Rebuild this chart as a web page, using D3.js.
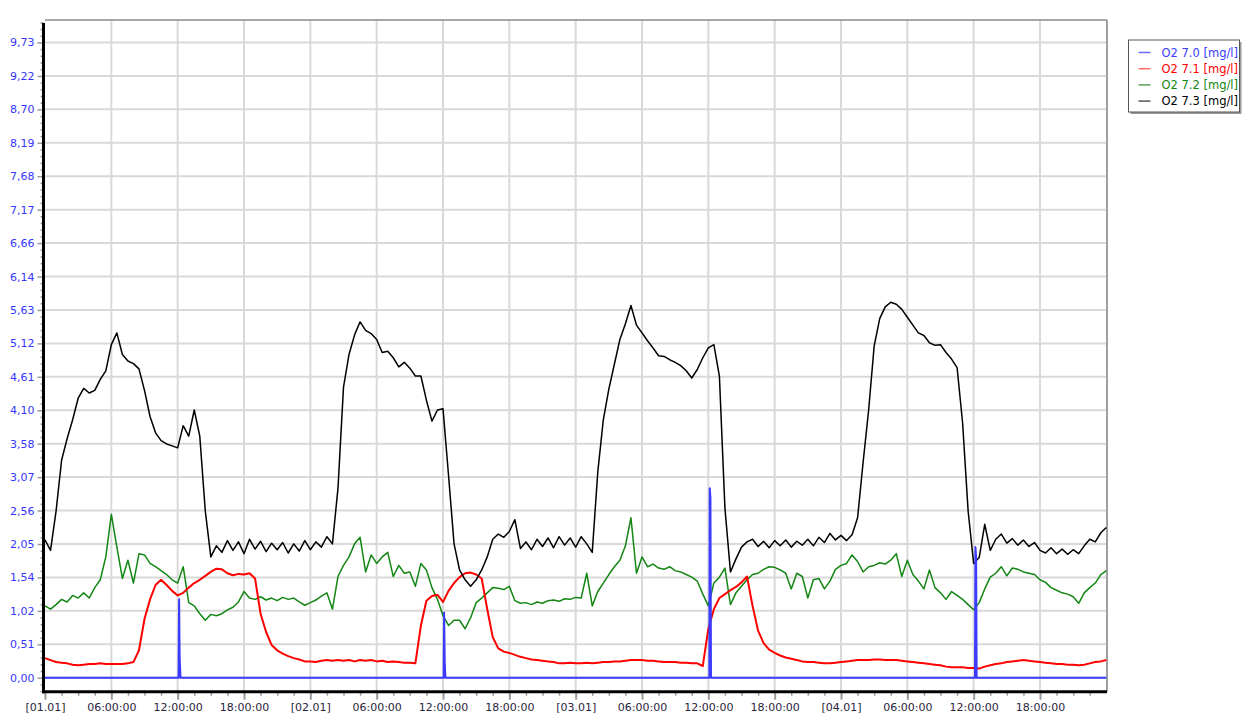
<!DOCTYPE html>
<html><head><meta charset="utf-8">
<script src="https://cdn.jsdelivr.net/npm/d3@7"></script>
<style>
body{margin:0;background:#fff;}
svg{display:block;font-family:"DejaVu Sans",sans-serif;}
</style>
</head><body>
<svg id="chart" width="1249" height="716"></svg>
<script>
// ---------------- DATA ----------------
const seriesNames = ["O2 7.0 [mg/l]", "O2 7.1 [mg/l]", "O2 7.2 [mg/l]", "O2 7.3 [mg/l]"];
const sampleStepHours = 0.5; // samples every 30 min from [01.01] 00:00

// O2 7.0 : flat zero with short spikes  [hour, value]
const o2_70 = [[0,0],[12.08,0],[12.13,1.20],[12.18,0.30],[12.26,0],
  [36.06,0],[36.10,1.00],[36.16,0.20],[36.22,0],
  [60.09,0],[60.13,2.90],[60.19,2.75],[60.24,0],
  [84.12,0],[84.16,2.00],[84.22,1.85],[84.27,0],[96,0]];

const o2_71 = [0.30,0.27,0.24,0.23,0.22,0.20,0.19,0.20,0.21,0.21,
0.22,0.21,0.21,0.21,0.21,0.22,0.24,0.42,0.90,1.20,
1.42,1.50,1.42,1.33,1.26,1.30,1.38,1.45,1.50,1.56,
1.62,1.67,1.66,1.60,1.57,1.59,1.58,1.60,1.52,0.98,
0.70,0.50,0.42,0.37,0.33,0.30,0.28,0.25,0.25,0.24,
0.26,0.27,0.26,0.27,0.26,0.27,0.25,0.27,0.26,0.27,
0.25,0.26,0.24,0.25,0.24,0.23,0.23,0.22,0.80,1.18,
1.25,1.27,1.16,1.33,1.45,1.54,1.60,1.61,1.58,1.52,
1.05,0.62,0.45,0.40,0.38,0.35,0.32,0.30,0.28,0.27,
0.26,0.25,0.24,0.22,0.22,0.23,0.22,0.22,0.23,0.22,
0.23,0.24,0.24,0.25,0.25,0.26,0.27,0.27,0.27,0.26,
0.26,0.25,0.24,0.24,0.24,0.23,0.23,0.22,0.22,0.18,
0.75,1.05,1.22,1.28,1.34,1.39,1.46,1.55,1.10,0.72,
0.53,0.43,0.38,0.34,0.31,0.29,0.27,0.25,0.24,0.24,
0.23,0.22,0.22,0.23,0.24,0.25,0.26,0.27,0.27,0.27,
0.28,0.28,0.27,0.27,0.27,0.26,0.25,0.24,0.23,0.22,
0.21,0.20,0.19,0.17,0.16,0.16,0.16,0.15,0.15,0.14,
0.17,0.19,0.21,0.22,0.24,0.25,0.26,0.27,0.26,0.25,
0.24,0.23,0.22,0.21,0.21,0.20,0.20,0.19,0.20,0.22,
0.24,0.25,0.27];

const o2_72 = [1.10,1.05,1.12,1.20,1.16,1.26,1.22,1.30,1.22,1.38,
1.50,1.85,2.50,2.00,1.52,1.80,1.45,1.90,1.88,1.75,
1.70,1.64,1.58,1.50,1.45,1.70,1.15,1.10,0.98,0.88,
0.97,0.95,0.98,1.04,1.08,1.16,1.32,1.22,1.20,1.24,
1.19,1.22,1.18,1.23,1.20,1.22,1.16,1.11,1.15,1.19,
1.25,1.30,1.05,1.55,1.72,1.85,2.05,2.15,1.62,1.88,
1.75,1.85,1.92,1.55,1.72,1.60,1.62,1.40,1.75,1.65,
1.38,1.20,0.95,0.80,0.88,0.88,0.75,0.92,1.15,1.22,
1.30,1.38,1.37,1.35,1.40,1.18,1.14,1.15,1.12,1.16,
1.14,1.18,1.19,1.17,1.21,1.20,1.23,1.22,1.60,1.10,
1.32,1.45,1.58,1.70,1.80,2.02,2.45,1.60,1.85,1.70,
1.74,1.68,1.66,1.70,1.64,1.62,1.58,1.54,1.48,1.28,
1.10,1.45,1.54,1.68,1.12,1.30,1.40,1.50,1.58,1.60,
1.66,1.70,1.69,1.65,1.60,1.36,1.60,1.55,1.22,1.50,
1.52,1.36,1.48,1.66,1.72,1.75,1.88,1.78,1.62,1.70,
1.72,1.76,1.74,1.80,1.90,1.55,1.80,1.58,1.48,1.36,
1.65,1.38,1.30,1.20,1.32,1.26,1.20,1.12,1.04,1.15,
1.36,1.54,1.60,1.70,1.56,1.68,1.66,1.62,1.60,1.58,
1.50,1.46,1.38,1.34,1.30,1.28,1.24,1.14,1.30,1.38,
1.45,1.58,1.64];

const o2_73 = [2.11,1.95,2.55,3.33,3.66,3.95,4.28,4.43,4.36,4.40,
4.57,4.70,5.10,5.28,4.95,4.85,4.81,4.73,4.40,4.00,
3.75,3.63,3.58,3.55,3.52,3.86,3.70,4.10,3.70,2.55,
1.85,2.02,1.92,2.10,1.95,2.08,1.90,2.12,1.97,2.09,
1.93,2.06,1.96,2.07,1.91,2.05,1.94,2.10,1.96,2.08,
2.00,2.16,2.05,2.90,4.45,4.95,5.25,5.45,5.32,5.27,
5.18,4.98,5.00,4.90,4.76,4.83,4.74,4.62,4.62,4.25,
3.93,4.10,4.12,3.10,2.05,1.65,1.50,1.40,1.50,1.65,
1.85,2.12,2.20,2.15,2.24,2.42,1.98,2.08,1.96,2.12,
2.01,2.14,1.99,2.16,2.03,2.14,2.00,2.16,2.05,1.92,
3.15,3.95,4.42,4.80,5.18,5.42,5.70,5.40,5.28,5.16,
5.05,4.93,4.92,4.87,4.83,4.78,4.70,4.59,4.72,4.90,
5.05,5.10,4.62,2.60,1.62,1.82,2.00,2.08,2.12,2.01,
2.09,1.99,2.10,2.02,2.11,2.00,2.09,2.03,2.12,2.02,
2.15,2.07,2.21,2.11,2.18,2.10,2.19,2.45,3.30,4.10,
5.08,5.50,5.68,5.75,5.72,5.64,5.52,5.40,5.28,5.24,
5.13,5.09,5.10,4.98,4.88,4.75,3.90,2.55,1.75,1.84,
2.35,1.95,2.12,2.20,2.06,2.13,2.03,2.11,2.01,2.07,
1.95,1.91,1.99,1.90,1.97,1.89,1.96,1.90,2.02,2.12,
2.08,2.22,2.30];

const yTickLabels = ["0,00","0,51","1,02","1,54","2,05","2,56","3,07","3,58","4,10","4,61",
  "5,12","5,63","6,14","6,66","7,17","7,68","8,19","8,70","9,22","9,73"];
const yTickStep = 0.512;
const xTickHours = [0,6,12,18,24,30,36,42,48,54,60,66,72,78,84,90];
const xTickLabels = ["[01.01]","06:00:00","12:00:00","18:00:00","[02.01]","06:00:00","12:00:00","18:00:00",
  "[03.01]","06:00:00","12:00:00","18:00:00","[04.01]","06:00:00","12:00:00","18:00:00"];

// ---------------- LAYOUT ----------------
const pLeft = 45, pRight = 1107, pTop = 20, pBottom = 691.7;
const svg = d3.select("#chart");
svg.append("rect").attr("width",1249).attr("height",716).attr("fill","#fff");

const x = d3.scaleLinear().domain([0, 96.06]).range([pLeft, pRight]);
const y = d3.scaleLinear().domain([-0.214, 10.072]).range([pBottom, pTop]);

const yTickValues = yTickLabels.map((_, i) => i * yTickStep);
const yMinor = d3.range(-0.2048, 10.07, yTickStep / 5).filter(v => Math.abs(v / yTickStep - Math.round(v / yTickStep)) > 0.01);
const xMinor = d3.range(0, 96.01, 1.5).filter(h => h % 6 !== 0);

// grid
const grid = svg.append("g");
grid.selectAll("line.h").data(yTickValues).join("line").attr("class","h")
  .attr("x1", pLeft).attr("x2", pRight).attr("y1", d => y(d)).attr("y2", d => y(d))
  .attr("stroke", "#d9d9d9").attr("stroke-width", 2);
grid.selectAll("line.v").data(xTickHours.filter(h => h > 0)).join("line").attr("class","v")
  .attr("x1", d => x(d)).attr("x2", d => x(d)).attr("y1", pTop).attr("y2", pBottom)
  .attr("stroke", "#d9d9d9").attr("stroke-width", 2);

// frame top / right
svg.append("line").attr("x1", pLeft).attr("x2", pRight).attr("y1", pTop).attr("y2", pTop)
  .attr("stroke", "#8a8a8a").attr("stroke-width", 1.5);
svg.append("line").attr("x1", pRight).attr("x2", pRight).attr("y1", pTop).attr("y2", pBottom)
  .attr("stroke", "#a0a0a0").attr("stroke-width", 2);

// series
const toPairs = arr => arr.map((v, i) => [i * sampleStepHours, v]);
const line = d3.line().x(d => x(d[0])).y(d => y(d[1]));
const series = [
  {data: toPairs(o2_72), color: "#138613", w: 1.5},
  {data: toPairs(o2_71), color: "#ff0000", w: 2},
  {data: toPairs(o2_73), color: "#000000", w: 1.5},
  {data: o2_70, color: "#3b3bff", w: 2}
];
const plot = svg.append("g");
plot.selectAll("path").data(series).join("path")
  .attr("d", d => line(d.data)).attr("fill", "none")
  .attr("stroke", d => d.color).attr("stroke-width", d => d.w)
  .attr("stroke-linejoin", "round");

// y axis
const gY = svg.append("g").attr("transform", `translate(${pLeft - 1.5},0)`);
gY.call(d3.axisLeft(y).tickValues(yTickValues).tickSize(6).tickSizeOuter(0).tickPadding(3)
  .tickFormat((d, i) => yTickLabels[i]));
gY.select(".domain").remove();
gY.selectAll(".tick line").attr("stroke", "#9a9a9a").attr("stroke-width", 1.5);
gY.selectAll(".tick text").attr("fill", "#3535ff").attr("font-size", 11)
  .attr("font-family", "DejaVu Sans, sans-serif");
const gYm = svg.append("g").attr("transform", `translate(${pLeft - 1.5},0)`);
gYm.call(d3.axisLeft(y).tickValues(yMinor).tickSize(3).tickSizeOuter(0).tickFormat(""));
gYm.select(".domain").remove();
gYm.selectAll(".tick line").attr("stroke", "#9a9a9a").attr("stroke-width", 1.5);

// x axis
const gX = svg.append("g").attr("transform", `translate(0,${pBottom})`);
gX.call(d3.axisBottom(x).tickValues(xTickHours).tickSize(8).tickSizeOuter(0).tickPadding(4)
  .tickFormat((d, i) => xTickLabels[i]));
gX.select(".domain").remove();
gX.selectAll(".tick line").attr("stroke", "#9a9a9a").attr("stroke-width", 2);
gX.selectAll(".tick text").attr("fill", "#2a2440").attr("font-size", 11)
  .attr("font-family", "DejaVu Sans, sans-serif");
const gXm = svg.append("g").attr("transform", `translate(0,${pBottom})`);
gXm.call(d3.axisBottom(x).tickValues(xMinor).tickSize(4).tickSizeOuter(0).tickFormat(""));
gXm.select(".domain").remove();
gXm.selectAll(".tick line").attr("stroke", "#9a9a9a").attr("stroke-width", 1.5);

// axis lines (thick black)
svg.append("line").attr("x1", pLeft - 1.5).attr("x2", pLeft - 1.5).attr("y1", pTop + 3).attr("y2", pBottom + 1.5)
  .attr("stroke", "#000").attr("stroke-width", 3);
svg.append("line").attr("x1", pLeft - 3).attr("x2", pRight).attr("y1", pBottom).attr("y2", pBottom)
  .attr("stroke", "#000").attr("stroke-width", 3);

// legend
const lg = svg.append("g").attr("transform", "translate(1128.5,40)");
lg.append("rect").attr("x", 2).attr("y", 2).attr("width", 111).attr("height", 72).attr("fill", "#9a9a9a");
lg.append("rect").attr("x", 0).attr("y", 0).attr("width", 111).attr("height", 72)
  .attr("fill", "#fff").attr("stroke", "#555").attr("stroke-width", 1);
const legendColors = ["#3b3bff", "#ff0000", "#138613", "#000000"];
const legendLine = ["#6a6aff", "#ff6a6a", "#5aa55a", "#555555"];
const rows = lg.selectAll("g.row").data(seriesNames).join("g").attr("class","row")
  .attr("transform", (d, i) => `translate(0,${12.5 + i * 16.2})`);
rows.append("line").attr("x1", 10).attr("x2", 22).attr("y1", 0).attr("y2", 0)
  .attr("stroke", (d, i) => legendLine[i]).attr("stroke-width", 1.5);
rows.append("text").attr("x", 33).attr("y", 0).attr("dy", "0.35em")
  .attr("font-size", 11.5).attr("fill", (d, i) => legendColors[i]).text(d => d);
</script>
</body></html>
